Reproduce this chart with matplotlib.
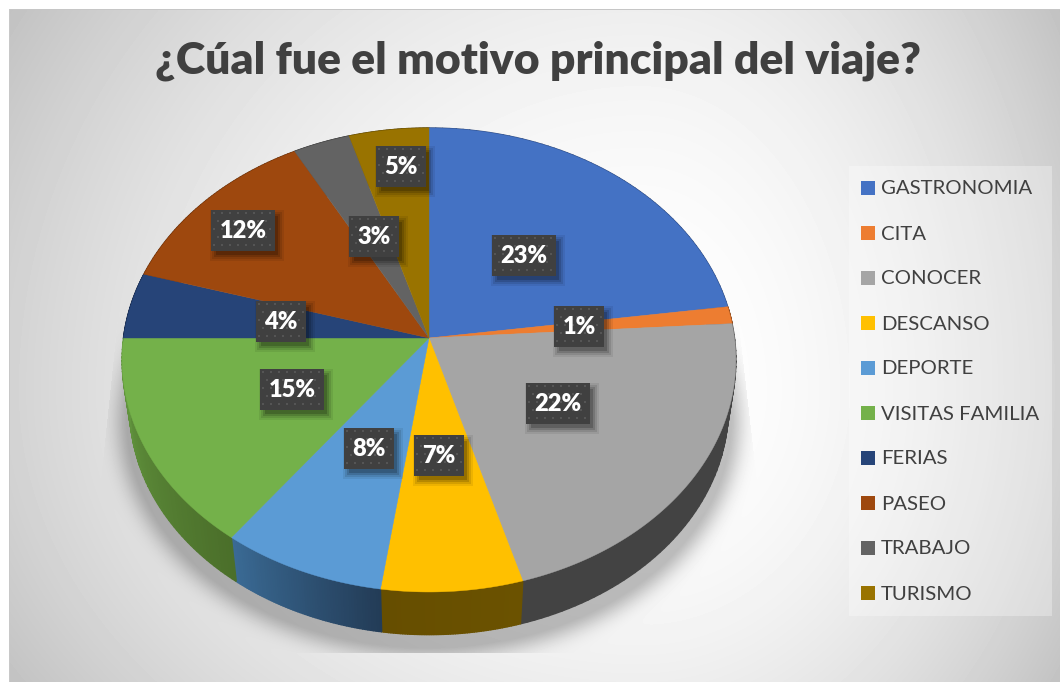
import matplotlib
matplotlib.use("Agg")
import matplotlib.pyplot as plt
import numpy as np
from matplotlib.path import Path
from matplotlib.patches import Rectangle

plt.rcParams["font.family"] = ["Lato", "DejaVu Sans"]

# Slice data, clockwise from 12 o'clock
CATEGORIES = ["GASTRONOMIA", "CITA", "CONOCER", "DESCANSO", "DEPORTE",
              "VISITAS FAMILIA", "FERIAS", "PASEO", "TRABAJO", "TURISMO"]
VALUES = [22.8, 1.2, 21.5, 6.8, 7.9, 14.8, 4.6, 12.5, 3.3, 4.6]
LABELS = ["23%", "1%", "22%", "7%", "8%", "15%", "4%", "12%", "3%", "5%"]

COLORS = ["#4472C4", "#ED7D31", "#A5A5A5", "#FFC000", "#5B9BD5",
          "#74B14A", "#264478", "#9E480E", "#636363", "#997300"]
SIDE_START = ["#2a4578", "#8e4b1d", "#434343", "#6b5200", "#233c57",
              "#4b6f2a", "#17294a", "#5f2b08", "#3b3b3b", "#5c4500"]
SIDE_END = ["#2a4578", "#8e4b1d", "#434343", "#664e00", "#3a6a94",
            "#659a41", "#17294a", "#5f2b08", "#3b3b3b", "#5c4500"]

# Label box centres, in pixels
LABEL_XY = [(524, 255), (579, 326), (558, 403), (439, 455), (369, 448),
            (292, 389), (281, 321), (243, 230), (374, 236), (401, 166)]

W, H = 1060, 683
CX, CY = 429, 338
RX, B, K = 305.5, 229.9, 0.0948
DEPTH_Y, BOTTOM_SCALE = 387, 0.975


def project(theta, scale=1.0, cy=CY):
    """Circle angle (clockwise from top) to picture pixels, with perspective."""
    u, v = np.sin(theta), np.cos(theta)
    d = 1 + K * v
    return CX + scale * RX * u / d, cy - scale * B * v / d


def make_background():
    yy, xx = np.mgrid[0:H, 0:W]
    nx = (xx - 640) / np.where(xx < 640, 630.0, 420.0)
    ny = (yy - 390) / np.where(yy < 390, 610.0, 470.0)
    img = 255 - 44 * (nx ** 2 + ny ** 2)

    # soft shadow under the pie, cut off hard at its bottom
    th = np.linspace(0, 2 * np.pi, 400)
    bx, by = project(th, BOTTOM_SCALE * 1.035, DEPTH_Y + 12)
    pts = np.column_stack([xx.ravel() + .5, yy.ravel() + .5])
    mask = Path(np.column_stack([bx, by])).contains_points(pts).reshape(H, W).astype(float)
    t = np.arange(-30, 31)
    g = np.exp(-t ** 2 / (2 * 10.0 ** 2))
    g /= g.sum()
    mask = np.apply_along_axis(lambda r: np.convolve(r, g, "same"), 0, mask)
    mask = np.apply_along_axis(lambda r: np.convolve(r, g, "same"), 1, mask)
    clip = Path([(120, 300), (100, 490), (100, 653), (758, 653), (758, 490),
                 (735, 290)]).contains_points(pts).reshape(H, W)
    shade = np.clip(mask * 1.3, 0, 1) * clip
    img = img * (1 - shade * 0.25)

    img[:9, :] = 255
    img[:, :9] = 255
    img[683 - 1:, :] = 255
    img[9, 9:] = 198
    img[9:682, 9] = 200
    return img


def draw_side(ax, t0, t1, c0, c1):
    ts = np.linspace(t0, t1, 60)
    x0, y0 = project(ts)
    x1, y1 = project(ts, BOTTOM_SCALE, DEPTH_Y)
    rgb0, rgb1 = matplotlib.colors.to_rgb(c0), matplotlib.colors.to_rgb(c1)
    for i in range(len(ts) - 1):
        f = i / (len(ts) - 2)
        col = tuple(a + (b - a) * f for a, b in zip(rgb0, rgb1))
        ax.fill([x0[i], x0[i + 1], x1[i + 1], x1[i]],
                [y0[i], y0[i + 1], y1[i + 1], y1[i]],
                color=col, lw=1.0, zorder=2)


def draw_label(ax, xc, yc, text):
    w = 64 if len(text) == 3 else 50
    h = 41
    x, y = xc - w / 2, yc - h / 2
    # blurred drop shadow
    for grow, alpha in [(5, .07), (3, .10), (1, .14), (-1, .18)]:
        ax.add_patch(Rectangle((x + 4 - grow, y + 5 - grow), w + 2 * grow, h + 2 * grow,
                               fc="black", ec="none", alpha=alpha, zorder=5))
    ax.add_patch(Rectangle((x, y), w, h, fc="#404040", ec="none", zorder=6))
    # dotted fill of the box
    gx, gy = np.meshgrid(np.arange(x + 3, x + w - 1, 8), np.arange(y + 3, y + h - 1, 8))
    gx[1::2] += 4
    keep = gx.ravel() < x + w - 1
    ax.scatter(gx.ravel()[keep], gy.ravel()[keep], s=2.5, marker="s",
               color="#555555", lw=0, zorder=7)
    ax.text(xc, yc + 1, text, color="white", fontsize=17, fontweight="heavy",
            ha="center", va="center", zorder=8)


def main():
    fig = plt.figure(figsize=(W / 100, H / 100), dpi=100)
    ax = fig.add_axes([0, 0, 1, 1])
    ax.imshow(make_background(), cmap="gray", vmin=0, vmax=255,
              extent=(0, W, H, 0), interpolation="nearest", zorder=0)
    ax.set_xlim(0, W)
    ax.set_ylim(H, 0)
    ax.axis("off")

    edges = np.concatenate([[0], np.cumsum(VALUES)]) / np.sum(VALUES) * 2 * np.pi

    for i in range(len(VALUES)):
        draw_side(ax, edges[i], edges[i + 1], SIDE_START[i], SIDE_END[i])

    for i in range(len(VALUES)):
        ts = np.linspace(edges[i], edges[i + 1], 80)
        x, y = project(ts)
        ax.fill(np.r_[CX, x], np.r_[CY, y], color=COLORS[i], lw=0.3, zorder=3)

    for (xc, yc), text in zip(LABEL_XY, LABELS):
        draw_label(ax, xc, yc, text)

    ax.text(538, 61, "¿Cúal fue el motivo principal del viaje?", color="#404040",
            fontsize=32, fontweight="heavy", ha="center", va="center", zorder=8)

    # legend panel
    ax.add_patch(Rectangle((849, 166), 203, 450, fc="white", ec="none", alpha=.3, zorder=1))
    for i, name in enumerate(CATEGORIES):
        y = 188 + 45 * i
        ax.add_patch(Rectangle((861, y - 7), 14, 14, fc=COLORS[i], ec="none", zorder=3))
        ax.text(881, y + 1, name, color="#404040", fontsize=14.7, ha="left",
                va="center", zorder=3)

    fig.savefig("out.png", dpi=100)
    plt.close(fig)


if __name__ == "__main__":
    main()
